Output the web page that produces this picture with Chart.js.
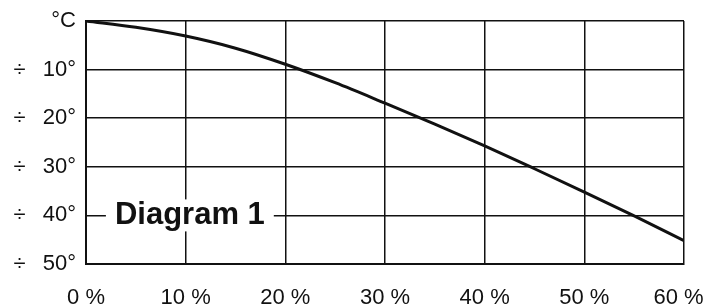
<!DOCTYPE html>
<html>
<head>
<meta charset="utf-8">
<script src="https://cdn.jsdelivr.net/npm/chart.js@4.4.1/dist/chart.umd.min.js"></script>
<style>
  html, body { margin: 0; padding: 0; background: #fff; }
  #wrap { width: 707px; height: 306px; position: relative; }
</style>
</head>
<body>
<div id="wrap"><canvas id="diagram"></canvas></div>
<script>
// values (% on x, degrees below zero on y)
const percent = [0, 5, 10, 15, 20, 25, 30, 35, 40, 45, 50, 55, 60];
const temperature = [0, -1.3, -3.1, -5.6, -8.9, -12.7, -16.9, -21.2, -25.7, -30.4, -35.2, -40.1, -45.2];
const xTicks = [0, 10, 20, 30, 40, 50, 60];
const yTicks = [0, -10, -20, -30, -40, -50];
const title = 'Diagram 1';

const ink = '#111';
const fontFamily = '"Liberation Sans", Arial, Helvetica, sans-serif';

// the minus is written with a division sign, as in the original
const yLabel = (v) => {
  if (v === 0) return '°C';
  return '÷\u2002 ' + Math.abs(v) + '°';
};

const xLabel = (v) => {
  // last label nudged left so it stays inside the page
  if (v === xTicks[xTicks.length - 1]) return v + ' %\u2002';
  return v + ' %';
};

// draws the boxed title over the grid
const titlePlugin = {
  id: 'titleBox',
  afterDraw(chart) {
    const ctx = chart.ctx;
    const x = chart.scales.x.getPixelForValue(2.9);
    const y = chart.scales.y.getPixelForValue(-40);
    ctx.save();
    ctx.font = 'bold 31px ' + fontFamily;
    const w = ctx.measureText(title).width;
    ctx.fillStyle = '#fff';
    ctx.fillRect(x - 9, y - 16, w + 18, 32);
    ctx.fillStyle = ink;
    ctx.textBaseline = 'middle';
    ctx.fillText(title, x, y);
    ctx.restore();
  }
};

const data = {
  datasets: [{
    data: percent.map((p, i) => ({ x: p, y: temperature[i] })),
    borderColor: ink,
    borderWidth: 3,
    pointRadius: 0,
    cubicInterpolationMode: 'monotone',
    fill: false
  }]
};

const config = {
  type: 'line',
  data: data,
  options: {
    responsive: true,
    maintainAspectRatio: false,
    animation: false,
    layout: {
      autoPadding: false,
      padding: { top: 21, right: 23, left: 0, bottom: 0 }
    },
    scales: {
      x: {
        type: 'linear',
        min: 0,
        max: 60,
        afterBuildTicks: (axis) => { axis.ticks = xTicks.map(v => ({ value: v })); },
        afterFit: (axis) => {
          axis.height = 42;
          axis.paddingLeft = 0;
          axis.paddingRight = 0;
        },
        grid: { color: ink, lineWidth: 1.5, drawTicks: false },
        border: { display: true, color: ink, width: 2 },
        ticks: {
          padding: 21,
          color: ink,
          font: { family: fontFamily, size: 22 },
          maxRotation: 0,
          callback: xLabel
        }
      },
      y: {
        min: -50,
        max: 0,
        afterBuildTicks: (axis) => { axis.ticks = yTicks.map(v => ({ value: v })); },
        afterFit: (axis) => {
          axis.width = 86;
          axis.paddingTop = 0;
          axis.paddingBottom = 0;
        },
        grid: { color: ink, lineWidth: 1.5, drawTicks: false },
        border: { display: true, color: ink, width: 2 },
        ticks: {
          padding: 10,
          color: ink,
          font: { family: fontFamily, size: 22 },
          callback: yLabel
        }
      }
    },
    plugins: {
      legend: { display: false },
      tooltip: { enabled: false }
    }
  },
  plugins: [titlePlugin]
};

new Chart(document.getElementById('diagram'), config);
</script>
</body>
</html>
